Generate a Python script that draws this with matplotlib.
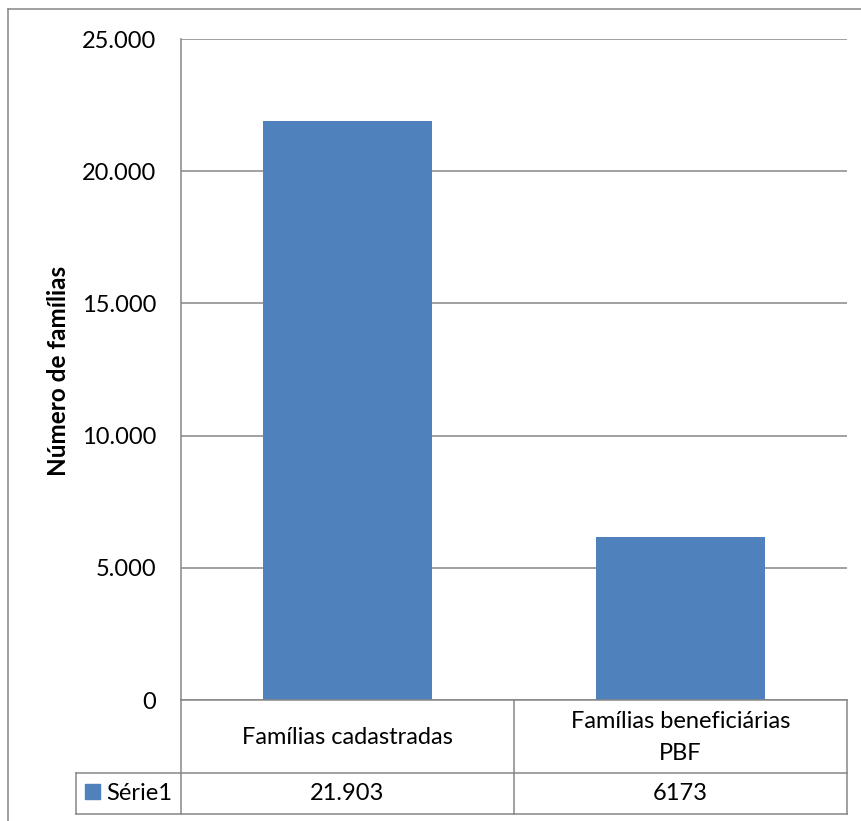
import matplotlib
matplotlib.use("Agg")
import matplotlib.pyplot as plt
from matplotlib.lines import Line2D
from matplotlib.patches import Rectangle
from matplotlib.transforms import blended_transform_factory
from matplotlib.ticker import FuncFormatter

categories = ["Famílias cadastradas", "Famílias beneficiárias\nPBF"]
values = [21903, 6173]
value_labels = ["21.903", "6173"]
series_name = "Série1"
y_label = "Número de famílias"
y_ticks = [0, 5000, 10000, 15000, 20000, 25000]

W, H = 862, 821
BAR = "#4F81BD"
GRID = "#868686"
FONT = "Lato"
FS = 17
plt.rcParams["font.family"] = [FONT, "DejaVu Sans"]

fig = plt.figure(figsize=(W / 100, H / 100), dpi=100)
fig.patch.set_facecolor("white")

def fx(x):
    return x / W

def fy(y):
    return 1 - y / H

L, R, T, B = 181, 847, 39, 700
ax = fig.add_axes([fx(L), fy(B), fx(R) - fx(L), fy(T) - fy(B)])
x = list(range(len(categories)))
ax.bar(x, values, width=0.51, color=BAR, zorder=3)
ax.set_xlim(-0.5, len(categories) - 0.5)
ax.set_ylim(0, 25000)
ax.set_yticks(y_ticks)
ax.yaxis.set_major_formatter(FuncFormatter(lambda v, p: "0" if v == 0 else f"{int(v):,}".replace(",", ".")))
ax.tick_params(axis="y", length=0, pad=18, labelsize=FS, labelcolor="black")
ax.set_xticks([])
ax.grid(axis="y", color=GRID, linewidth=1.1, zorder=0)
for s in ["top", "right", "bottom"]:
    ax.spines[s].set_visible(False)
ax.spines["left"].set_color(GRID)
ax.spines["left"].set_linewidth(1.1)

# y-axis title
fig.text(fx(59), fy(371), y_label, rotation=90, ha="center", va="center",
         fontsize=17.5, fontweight="bold")

def fline(x0, y0, x1, y1, **kw):
    fig.add_artist(Line2D([fx(x0), fx(x1)], [fy(y0), fy(y1)], transform=fig.transFigure,
                          color=GRID, linewidth=1.1, **kw))

# outer chart border (top and left visible)
fline(8, 9, W + 5, 9)
fline(8, 9, 8, H + 5)

# data table
ROW1_B, ROW2_B, LEFT = 773, 814, 76
MID = (L + R) / 2
fline(L, B, R, B)
fline(LEFT, ROW1_B, R, ROW1_B)
fline(LEFT, ROW2_B, R, ROW2_B)
fline(L, B, L, ROW2_B)
fline(MID, B, MID, ROW2_B)
fline(R, B, R, ROW2_B)
fline(LEFT, ROW1_B, LEFT, ROW2_B)

tr = blended_transform_factory(ax.transData, fig.transFigure)
for i, (c, v) in enumerate(zip(categories, value_labels)):
    fig.text(i, fy((B + ROW1_B) / 2 + 1), c, transform=tr, ha="center", va="center",
             fontsize=FS, linespacing=1.65)
    fig.text(i, fy((ROW1_B + ROW2_B) / 2), v, transform=tr, ha="center", va="center", fontsize=FS)

fig.add_artist(Rectangle((fx(85), fy(799)), fx(100) - fx(85), fy(784) - fy(799),
                         transform=fig.transFigure, color=BAR))
fig.text(fx(106), fy((ROW1_B + ROW2_B) / 2), series_name, ha="left", va="center", fontsize=FS)

fig.savefig("out.png", dpi=100)
